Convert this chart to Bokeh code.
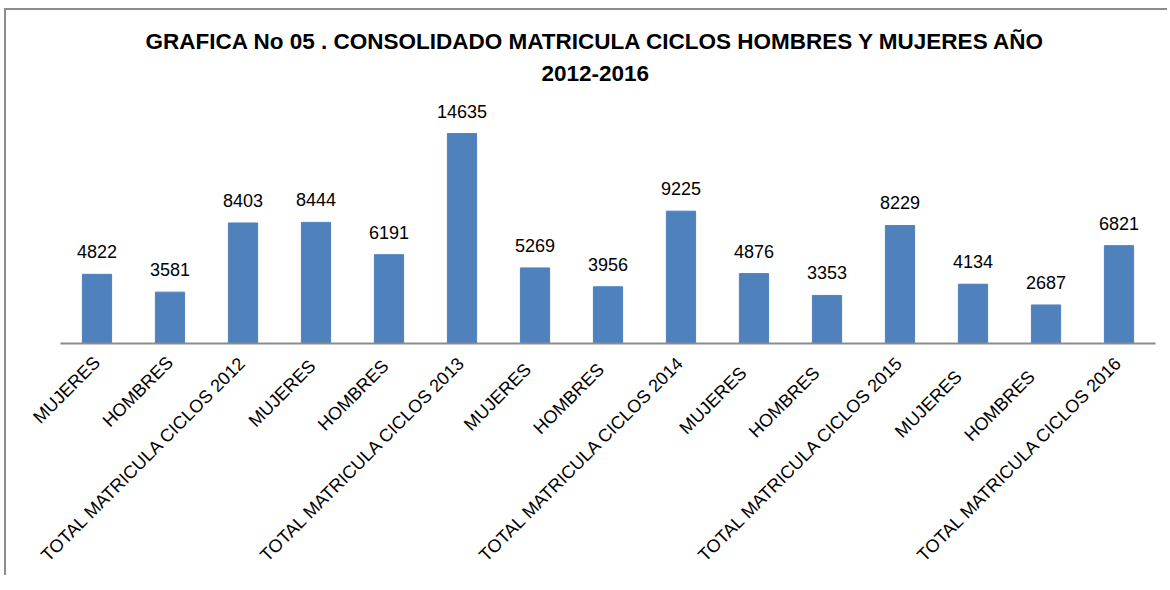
from bokeh.plotting import figure
from bokeh.models import ColumnDataSource, LabelSet, Range1d, FactorRange, Title
from bokeh.core.properties import value
from bokeh.embed import file_html
from bokeh.resources import INLINE
import math

categories = [
    "MUJERES", "HOMBRES", "TOTAL MATRICULA CICLOS 2012",
    "MUJERES ", "HOMBRES ", "TOTAL MATRICULA CICLOS 2013",
    "MUJERES  ", "HOMBRES  ", "TOTAL MATRICULA CICLOS 2014",
    "MUJERES   ", "HOMBRES   ", "TOTAL MATRICULA CICLOS 2015",
    "MUJERES    ", "HOMBRES    ", "TOTAL MATRICULA CICLOS 2016",
]
values = [4822, 3581, 8403, 8444, 6191, 14635, 5269, 3956, 9225,
          4876, 3353, 8229, 4134, 2687, 6821]
title_line1 = "GRAFICA  No 05 . CONSOLIDADO MATRICULA CICLOS HOMBRES Y MUJERES AÑO"
title_line2 = "2012-2016"

FONT = "Liberation Sans"
src = ColumnDataSource(dict(cat=categories, val=values, lbl=[str(v) for v in values]))

p = figure(x_range=FactorRange(*categories), y_range=Range1d(0, 17500),
           frame_width=1095, frame_height=251, output_backend="svg", toolbar_location=None,
           min_border_left=54, min_border_right=12, min_border_top=82,
           min_border_bottom=10)
p.title = None
t2 = Title(text=title_line2, align="left", text_font=FONT, text_font_size="22.5px",
           text_font_style="bold", text_color="black", offset=481, standoff=24,
           text_line_height=1.0)
t1 = Title(text=title_line1, align="left", text_font=FONT, text_font_size="22.5px",
           text_font_style="bold", text_color="black", offset=85, standoff=-5,
           text_line_height=1.0)
p.add_layout(t2, "above")
p.add_layout(t1, "above")

p.vbar(x="cat", top="val", width=0.4, source=src, fill_color="#4F81BD",
       line_color="#4F81BD")
p.add_layout(LabelSet(x="cat", y="val", text="lbl", source=src, text_align="center",
                      text_baseline="bottom", y_offset=16, text_font_size="18px",
                      text_color="black", text_font=value(FONT)))

p.yaxis.visible = False
p.xgrid.visible = False
p.ygrid.visible = False
p.outline_line_color = None
p.xaxis.axis_line_color = "#8c8c8c"
p.xaxis.axis_line_width = 2
p.xaxis.major_tick_line_color = None
p.xaxis.minor_tick_line_color = None
p.xaxis.major_label_orientation = math.pi / 4
p.xaxis.major_label_text_font = FONT
p.xaxis.major_label_text_font_size = "18px"
p.xaxis.major_label_text_color = "black"
p.xaxis.major_label_standoff = 10
p.x_range.range_padding = 0
p.x_range.group_padding = 0
p.styles = {"margin-left": "4px", "margin-top": "8px",
            "border-left": "2px solid #8c8c8c", "border-top": "2px solid #8c8c8c"}

open("out.html", "w").write(file_html(p, INLINE))
